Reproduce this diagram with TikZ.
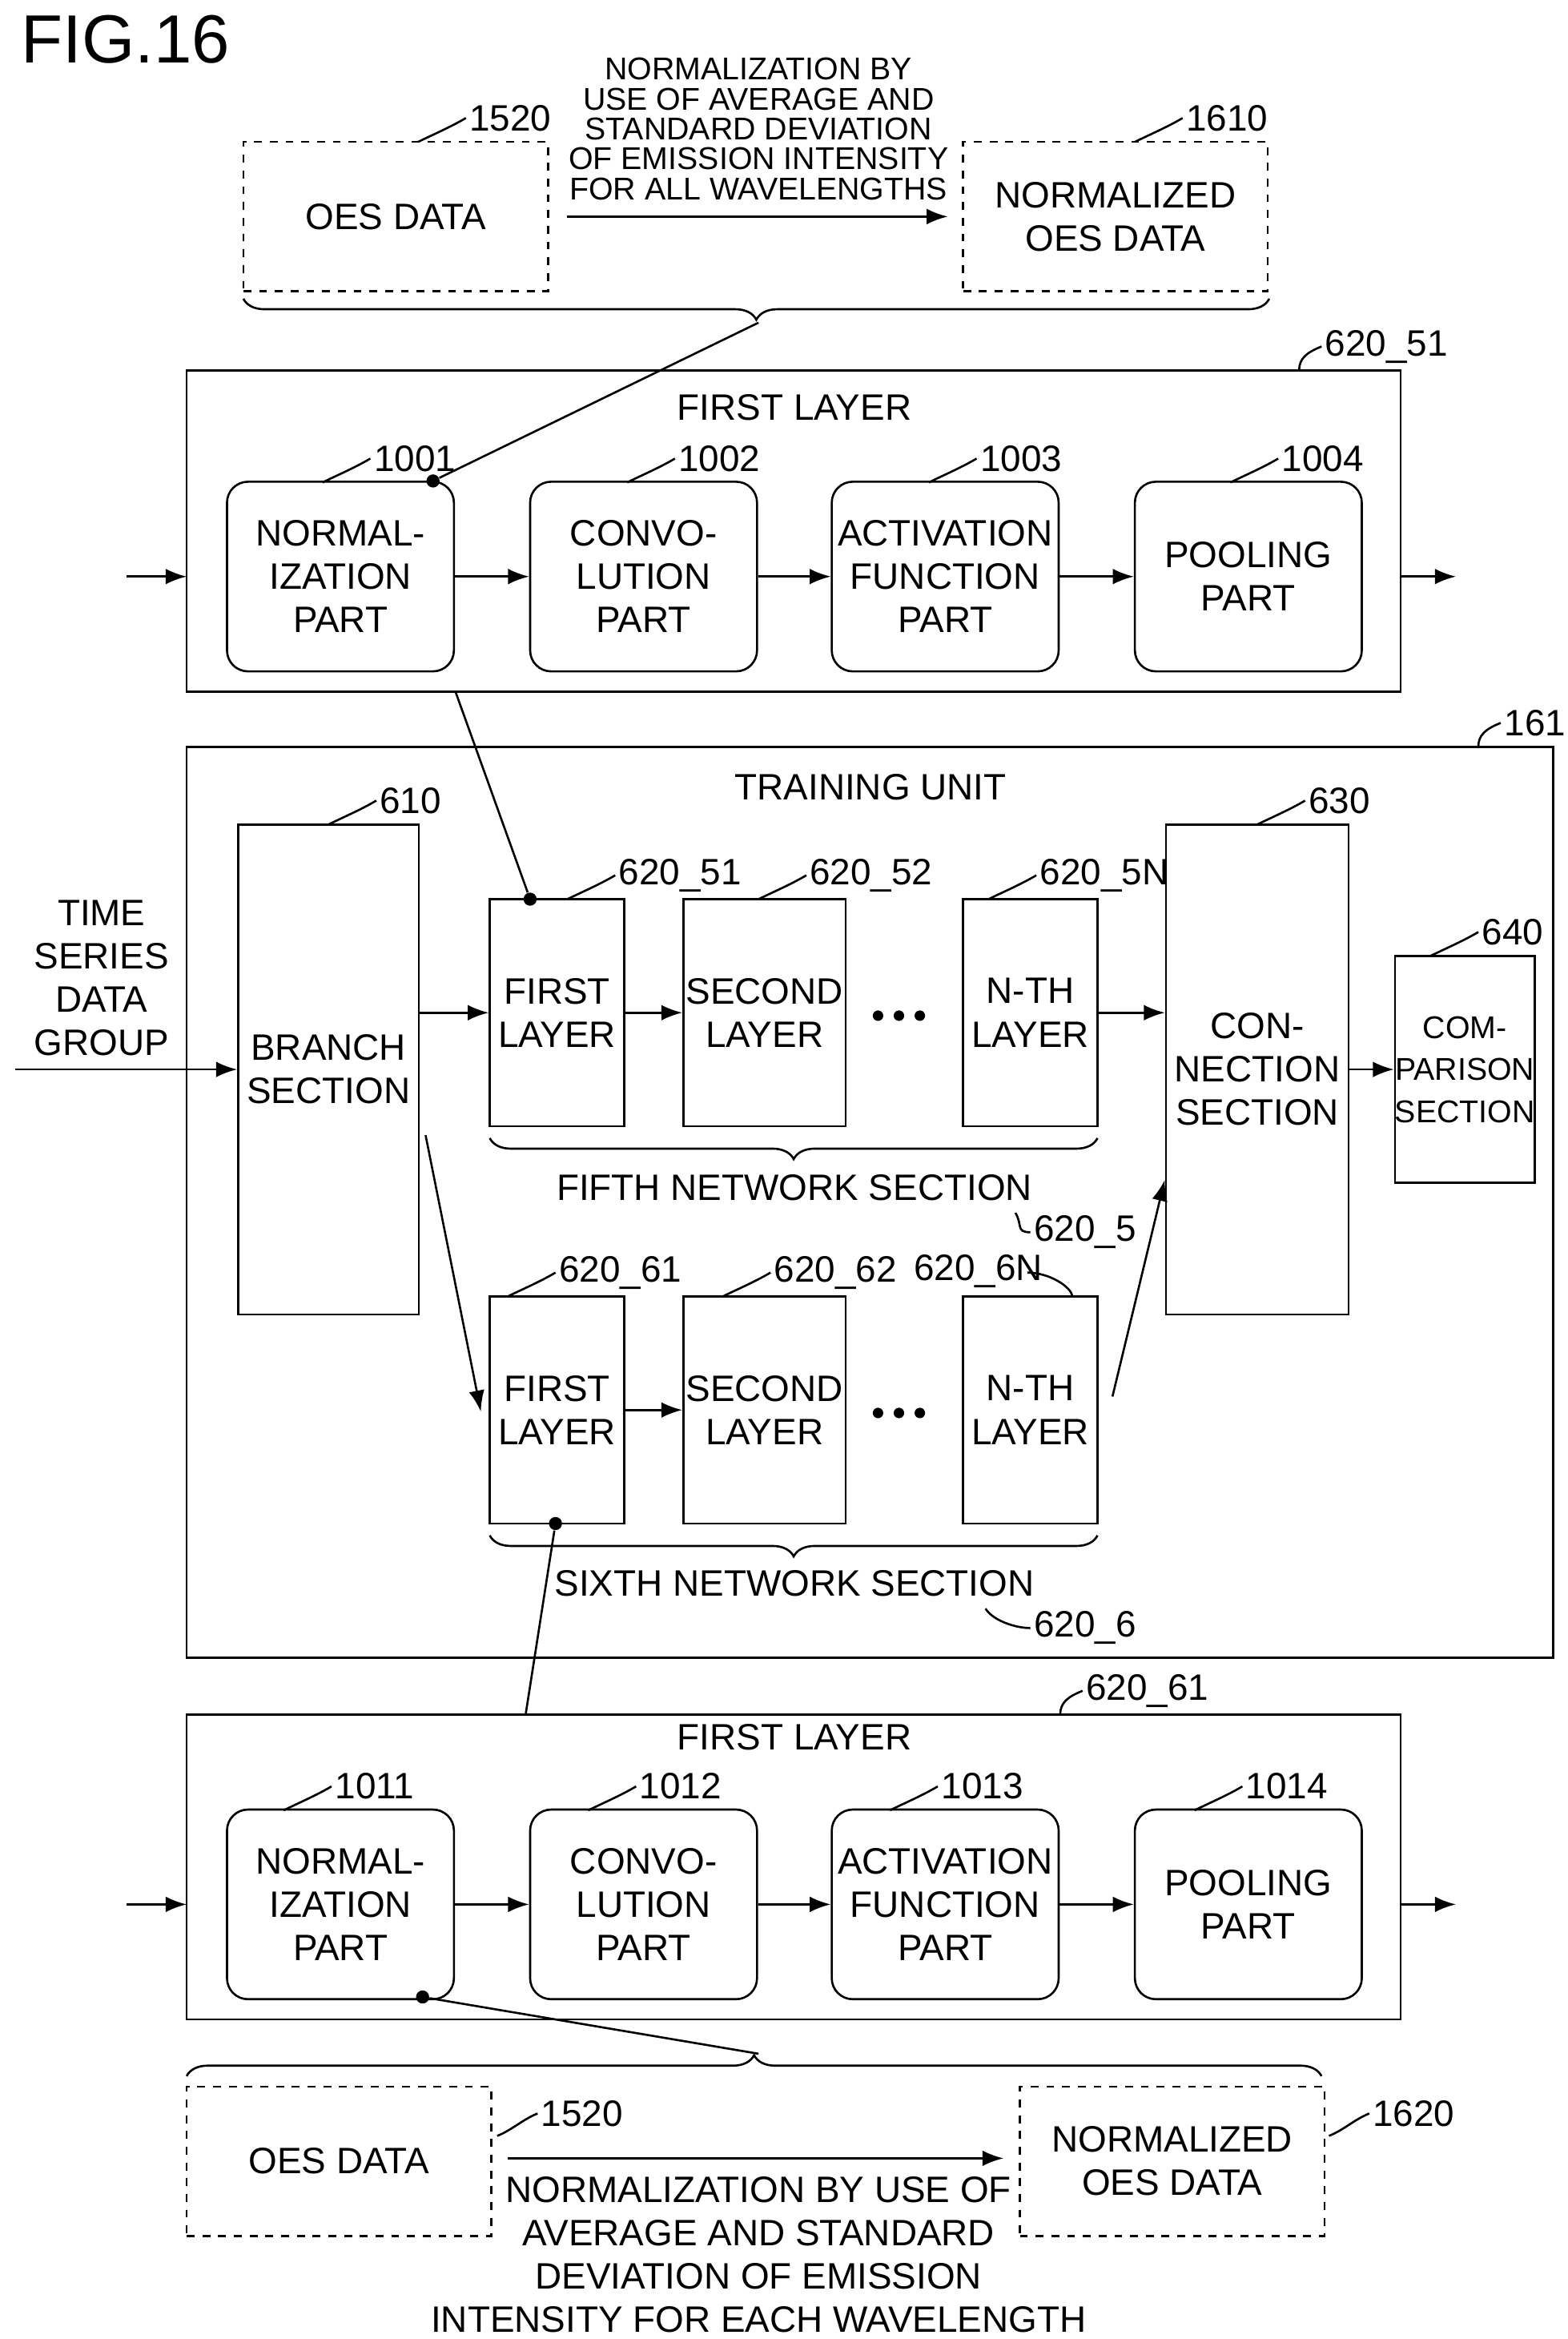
\documentclass[tikz,border=0pt]{standalone}
\usepackage{fontspec}
\setmainfont{Liberation Sans}
\usetikzlibrary{arrows.meta,decorations.pathreplacing}

\tikzset{
  every node/.style={font=\fontsize{14}{16.5}\selectfont},
  part/.style={draw,thick,rounded corners=8pt,minimum width=3.04cm,minimum height=2.54cm,align=center,inner sep=1pt},
  layer/.style={draw,thick,minimum width=1.8cm,minimum height=3.04cm,align=center,inner sep=1pt},
  oes/.style={draw,thick,dashed,minimum width=4.08cm,minimum height=2cm,align=center},
  frame/.style={draw,thick},
  arr/.style={thick,-{Latex[length=8pt,width=6pt]}},
  brc/.style={thick,decorate,decoration={brace,amplitude=8pt}},
  dot/.style={circle,fill,inner sep=0pt,minimum size=5pt},
  ell/.style={circle,fill,inner sep=0pt,minimum size=4pt},
}
\newcommand{\tagat}[2]{\draw[thick] (#1) .. controls +(8,-4) and +(-10,6) .. ++(32,-16) node[anchor=west,inner sep=1pt]{#2};}

\begin{document}
\begin{tikzpicture}[x=0.02cm,y=-0.02cm]
\useasboundingbox (0,0) rectangle (1050,1566);
\node[anchor=north west,font=\fontsize{26}{28}\selectfont] (fig) at (8,4) {FIG.16};

% top normalization
\node[oes] (oesA) at (265,145) {OES DATA};
\node[oes] (normA) at (747,145) {NORMALIZED\\OES DATA};
\tagat{280,95}{1520}
\tagat{760,95}{1610}
\draw[arr] (oesA.east)++(12,0) coordinate (a1) -- ++(255,0) coordinate (a2);
\node[align=center,anchor=south,inner sep=1pt,font=\fontsize{12}{11.4}\selectfont] (txtA) at (508,136) {NORMALIZATION BY\\USE OF AVERAGE AND\\STANDARD DEVIATION\\OF EMISSION INTENSITY\\FOR ALL WAVELENGTHS};
\draw[brc] (850,200) -- (163,200);
\coordinate (bAtip) at (508,216);

% first layer 620_51
\draw[frame] (125,248) rectangle (938,463);
\node (fl1) at (532,273) {FIRST LAYER};
\draw[thick] (870,248) .. controls +(0,-8) and +(-10,4) .. (885,232) node[anchor=west,inner sep=1pt]{620\_51};
\node[part] (p1) at (228,386) {NORMAL-\\IZATION\\PART};
\node[part] (p2) at (431,386) {CONVO-\\LUTION\\PART};
\node[part] (p3) at (633,386) {ACTIVATION\\FUNCTION\\PART};
\node[part] (p4) at (836,386) {POOLING\\PART};
\tagat{216,323}{1001}
\tagat{420,323}{1002}
\tagat{622,323}{1003}
\tagat{824,323}{1004}
\coordinate (in1) at (85,386);
\coordinate (out1) at (975,386);
\draw[arr] (in1) -- (125,386);
\draw[arr] (p1) -- (p2);
\draw[arr] (p2) -- (p3);
\draw[arr] (p3) -- (p4);
\draw[arr] (938,386) -- (out1);
\node[dot] (d1) at (290,322) {};
\draw[thick] (bAtip) -- (d1);

% training unit
\draw[frame] (125,500) rectangle (1040,1110);
\draw[thick] (990,500) .. controls +(0,-8) and +(-10,4) .. (1005,484) node[anchor=west,inner sep=1pt]{161};
\node (tu) at (583,527) {TRAINING UNIT};
\node[draw,thick,minimum width=2.3cm,minimum height=6.56cm,align=center] (br) at (220,716) {BRANCH\\SECTION};
\tagat{220,552}{610}
\node[draw,thick,minimum width=2.3cm,minimum height=6.56cm,align=center] (con) at (842,716) {CON-\\NECTION\\SECTION};
\tagat{842,552}{630}
\node[draw,thick,minimum width=1.76cm,minimum height=3.04cm,align=center,inner sep=0pt,font=\fontsize{12}{16}\selectfont] (cmp) at (981,716) {COM-\\PARISON\\SECTION};
\tagat{958,640}{640}
\node[align=center] (tsd) at (68,655) {TIME\\SERIES\\DATA\\GROUP};
\coordinate (tsin) at (10,716);
\draw[arr] (tsin) -- (br.west);

% fifth network section
\node[layer] (l51) at (373,678) {FIRST\\LAYER};
\node[layer] (l52) at (512,678) {SECOND\\LAYER};
\node[layer] (l5n) at (690,678) {N-TH\\LAYER};
\foreach \i in {-1,0,1} \node[ell] at (602+\i*14,680) {};
\tagat{380,602}{620\_51}
\tagat{508,602}{620\_52}
\tagat{662,602}{620\_5N}
\draw[arr] (br.east|-l51) -- (l51);
\draw[arr] (l51) -- (l52);
\draw[arr] (l5n) -- (con.west|-l5n);
\draw[arr] (con.east|-cmp) -- (cmp);
\draw[brc] (735,762) -- (328,762);
\node (fns) at (532,795) {FIFTH NETWORK SECTION};
\draw[thick] (680,812) .. controls +(5,8) and +(-10,0) .. (690,825) node[anchor=west,inner sep=1pt]{620\_5};
\node[dot] (d51) at (355,602) {};
\draw[thick] (305,463) -- (d51);

% sixth network section
\node[layer] (l61) at (373,944) {FIRST\\LAYER};
\node[layer] (l62) at (512,944) {SECOND\\LAYER};
\node[layer] (l6n) at (690,944) {N-TH\\LAYER};
\foreach \i in {-1,0,1} \node[ell] at (602+\i*14,946) {};
\tagat{340,868}{620\_61}
\tagat{484,868}{620\_62}
\node[anchor=west,inner sep=1pt] (t6n) at (610,851) {620\_6N};
\draw[thick] (688,852) .. controls +(15,0) and +(0,-6) .. (718,868);
\draw[arr] (l61) -- (l62);
\draw[arr] (285,760) -- (322,945);
\draw[arr] (745,935) -- (780,790);
\draw[brc] (735,1028) -- (328,1028);
\node (sns) at (532,1060) {SIXTH NETWORK SECTION};
\draw[thick] (660,1077) .. controls +(5,8) and +(-10,0) .. (690,1090) node[anchor=west,inner sep=1pt]{620\_6};
\node[dot] (d61) at (372,1020) {};
\draw[thick] (d61) -- (352,1148);

% first layer 620_61
\draw[frame] (125,1148) rectangle (938,1352);
\draw[thick] (710,1148) .. controls +(0,-8) and +(-10,4) .. (725,1132) node[anchor=west,inner sep=1pt]{620\_61};
\node (fl2) at (532,1163) {FIRST LAYER};
\node[part] (q1) at (228,1275) {NORMAL-\\IZATION\\PART};
\node[part] (q2) at (431,1275) {CONVO-\\LUTION\\PART};
\node[part] (q3) at (633,1275) {ACTIVATION\\FUNCTION\\PART};
\node[part] (q4) at (836,1275) {POOLING\\PART};
\tagat{190,1212}{1011}
\tagat{394,1212}{1012}
\tagat{596,1212}{1013}
\tagat{800,1212}{1014}
\coordinate (in2) at (85,1275);
\coordinate (out2) at (975,1275);
\draw[arr] (in2) -- (125,1275);
\draw[arr] (q1) -- (q2);
\draw[arr] (q2) -- (q3);
\draw[arr] (q3) -- (q4);
\draw[arr] (938,1275) -- (out2);
\node[dot] (d2) at (283,1337) {};

% bottom normalization
\draw[brc] (125,1390) -- (885,1390);
\coordinate (bBtip) at (508,1375);
\draw[thick] (d2) -- (bBtip);
\node[oes] (oesB) at (227,1447) {OES DATA};
\node[oes] (normB) at (785,1447) {NORMALIZED\\OES DATA};
\draw[thick] (333,1430) .. controls +(10,-4) and +(-10,4) .. (360,1415) node[anchor=west,inner sep=1pt]{1520};
\draw[thick] (890,1430) .. controls +(10,-4) and +(-10,4) .. (917,1415) node[anchor=west,inner sep=1pt]{1620};
\draw[arr] (340,1445) -- (672,1445);
\node[align=center,anchor=north,inner sep=1pt] (txtB) at (508,1455) {NORMALIZATION BY USE OF\\AVERAGE AND STANDARD\\DEVIATION OF EMISSION\\INTENSITY FOR EACH WAVELENGTH};
\end{tikzpicture}
\end{document}
